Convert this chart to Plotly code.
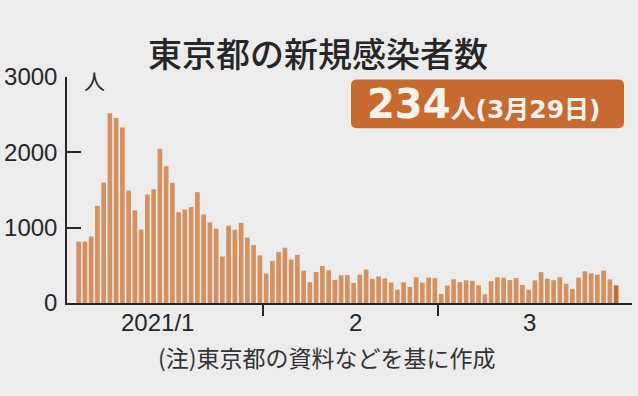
import pandas as pd
import plotly.graph_objects as go

# Daily new cases in Tokyo, 2021-01-02 .. 2021-03-29
start_date = "2021-01-02"
cases_jan = [814, 816, 884, 1290, 1600, 2520, 2455, 2330, 1494, 1230, 975, 1440, 1510,
             2044, 1815, 1595, 1204, 1240, 1274, 1471, 1175, 1070, 986, 618, 1026, 973,
             1064, 868, 769, 633]
cases_feb = [393, 556, 676, 734, 577, 639, 429, 276, 412, 491, 434, 307, 369, 371,
             266, 378, 445, 321, 353, 327, 272, 178, 275, 213, 340, 270, 337, 329]
cases_mar = [121, 232, 316, 279, 301, 293, 237, 116, 290, 340, 335, 304, 330, 239,
             175, 300, 409, 323, 303, 342, 256, 187, 337, 420, 394, 376, 430, 313, 234]
cases = cases_jan + cases_feb + cases_mar
dates = pd.date_range(start_date, periods=len(cases), freq="D")

y_ticks = [0, 1000, 2000, 3000]
month_labels = ["2021/1", "2", "3"]
month_boundaries = ["2021-01-31 12:00", "2021-02-28 12:00"]

title_text = "東京都の新規感染者数"
unit_text = "人"
latest_value = "234"
latest_label = "人(3月29日)"
note_text = "(注)東京都の資料などを基に作成"

BG = "#ECECEC"
BAR = "#D4915F"
HILITE = "#C66A30"
INK = "#262626"

NUM = "Liberation Sans, Arial, sans-serif"
CJK = "Noto Sans CJK JP, sans-serif"

colors = [BAR] * (len(cases) - 1) + [HILITE]

fig = go.Figure()
fig.add_trace(go.Bar(x=dates, y=cases, marker=dict(color=colors, line=dict(width=0)),
                     hoverinfo="x+y"))

# plot area geometry (pixels)
L, R, T, B = 67, 632, 76.5, 303.3
W, H = R - L, B - T

def px(x):
    return (x - L) / W

def py(y):
    return (B - y) / H

fig.update_layout(
    width=638, height=396,
    margin=dict(l=L, r=638 - R, t=T, b=396 - B, pad=0),
    paper_bgcolor=BG, plot_bgcolor=BG,
    bargap=0.25, showlegend=False,
    xaxis=dict(
        type="date", automargin=False,
        range=["2020-12-31 03:20", "2021-03-31 13:00"],
        showline=True, linecolor=INK, linewidth=1.5,
        tickvals=month_boundaries, ticktext=["", ""],
        ticks="outside", ticklen=11, tickwidth=1.5, tickcolor=INK,
        showgrid=False, zeroline=False,
    ),
    yaxis=dict(
        range=[0, 3000], automargin=False,
        tickvals=y_ticks, ticktext=[str(v) for v in y_ticks],
        ticks="inside", ticklen=14, tickwidth=1.5, tickcolor=INK,
        showline=True, linecolor=INK, linewidth=1.5,
        showgrid=False, zeroline=False,
        tickfont=dict(family=NUM, size=24, color=INK),
        ticklabelstandoff=3,
    ),
)

annotations = [
    dict(text=title_text, x=px(318), y=py(52), font=dict(family=CJK, size=34, color=INK, weight=500)),
    dict(text=unit_text, x=px(94), y=py(80), font=dict(family=CJK, size=21, color=INK)),
    dict(text=note_text, x=px(327), y=py(357), font=dict(family=CJK, size=23, color="#333333")),
]
for lab, xc in zip(month_labels, [157, 355, 529]):
    annotations.append(dict(text=lab, x=px(xc), y=py(323), font=dict(family=NUM, size=24, color=INK)))
annotations.append(dict(
    text=f"<span style='font-size:40px'>{latest_value}</span><span style='font-size:25px'>{latest_label}</span>",
    x=px(484), y=py(103.5),
    font=dict(family="DejaVu Sans, Noto Sans CJK JP, sans-serif", color="#F8F2EC", weight="bold"),
))
for a in annotations:
    a.update(xref="paper", yref="paper", showarrow=False, xanchor="center", yanchor="middle")
fig.update_layout(annotations=annotations)

# rounded highlight box
x0, x1, y0, y1 = px(351), px(624), py(128), py(79)
rx, ry = 6 / W, 6 / H
path = (f"M {x0+rx},{y0} L {x1-rx},{y0} Q {x1},{y0} {x1},{y0+ry} "
        f"L {x1},{y1-ry} Q {x1},{y1} {x1-rx},{y1} L {x0+rx},{y1} Q {x0},{y1} {x0},{y1-ry} "
        f"L {x0},{y0+ry} Q {x0},{y0} {x0+rx},{y0} Z")
fig.add_shape(type="path", path=path, xref="paper", yref="paper",
              fillcolor=HILITE, line=dict(width=0), layer="below")

fig.write_html("out.html", config={"displayModeBar": False},
               post_script="document.body.style.margin='0';document.body.style.background='#ECECEC';")
